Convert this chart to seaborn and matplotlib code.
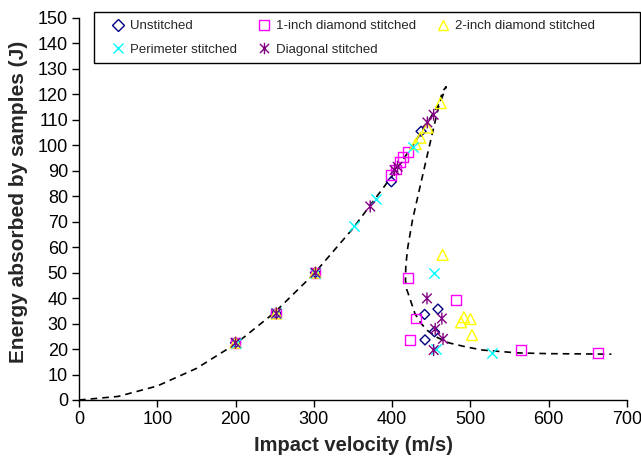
import numpy as np
import pandas as pd
import matplotlib
matplotlib.use("Agg")
import matplotlib.pyplot as plt
from matplotlib.path import Path
from matplotlib.patches import Rectangle
from matplotlib.lines import Line2D
import seaborn as sns

# ---------------- data ----------------
unst_v = [200, 252, 302, 399, 437, 441.5, 458.5, 454, 442]
unst_e = [22.5, 34, 50, 85.7, 105.5, 33.6, 35.7, 26.8, 23.6]

one_v = [200, 252, 302, 399, 405, 410, 414, 420, 420, 482, 430, 423, 565, 663]
one_e = [22.5, 34, 50, 88.5, 90.5, 93.5, 95.5, 97.5, 48, 39.3, 32, 23.5, 19.5, 18.3]

two_v = [200, 252, 302, 430, 436, 445, 462, 464.5, 491.7, 500, 488, 502]
two_e = [22.5, 34, 50, 100.5, 103, 107, 116.6, 57, 32.5, 31.8, 30.5, 25.5]

peri_v = [200, 252, 302, 351, 380, 426.5, 453, 456, 528]
peri_e = [22.5, 34, 50, 68.5, 79, 99.2, 50, 20, 18.5]

diag_v = [200, 252, 302, 372, 403, 407, 445, 453, 444.5, 463.5, 455, 465, 453]
diag_e = [22.5, 34, 50, 76, 90.3, 91.6, 109, 112, 39.9, 32, 27.9, 24, 19.6]

# fitted trend curve
curve_v = [0, 50, 100, 150, 200, 250, 300, 350, 400, 430, 450, 462, 469,
           464, 455, 445, 435, 426, 420, 417.5, 417, 418.5, 422, 429, 436,
           444, 458, 473, 495, 516, 540, 560, 600, 640, 680]
curve_e = [0, 1.4, 5.5, 12.4, 22, 34.4, 49.5, 67.4, 88, 101.7, 111.4, 117.4, 123,
           121, 109.5, 96.3, 82.9, 70.7, 60, 53, 47, 43.5, 40.5, 34, 30.5,
           27.5, 24.5, 22.4, 20.8, 19.6, 19, 18.5, 18.2, 18.1, 18]

labels = ["Unstitched", "1-inch diamond stitched", "2-inch diamond stitched",
          "Perimeter stitched", "Diagonal stitched"]
x_ticks = [0, 100, 200, 300, 400, 500, 600, 700]
y_ticks = list(range(0, 151, 10))

# ---------------- style ----------------
sns.set_theme(style="white")
plt.rcParams["font.family"] = ["Liberation Sans", "DejaVu Sans"]

W, H = 641, 462
fig = plt.figure(figsize=(W / 100, H / 100), dpi=100)
ax = fig.add_axes([79 / W, 1 - 400 / H, (627 - 79) / W, (400 - 18) / H])

# asterisk marker (x with vertical bar)
ast = Path([(0, -1), (0, 1), (-0.8, -0.8), (0.8, 0.8), (-0.8, 0.8), (0.8, -0.8)],
           [Path.MOVETO, Path.LINETO, Path.MOVETO, Path.LINETO, Path.MOVETO, Path.LINETO])

curve_df = pd.DataFrame({"v": curve_v, "e": curve_e})
sns.lineplot(data=curve_df, x="v", y="e", sort=False, estimator=None, ax=ax,
             color="black", linewidth=1.2, dashes=False, linestyle=(0, (4, 3)), zorder=1)

series = [
    (unst_v, unst_e, "D", "#000080", 26, labels[0], True),
    (one_v, one_e, "s", "#FF00FF", 50, labels[1], True),
    (two_v, two_e, "^", "#FFFF00", 62, labels[2], True),
    (peri_v, peri_e, "x", "#00FFFF", 55, labels[3], False),
    (diag_v, diag_e, ast, "#800080", 75, labels[4], True),
]
handles = {}
for v, e, mk, col, s, lab, hollow in series:
    df = pd.DataFrame({"v": v, "e": e})
    kw = dict(facecolor="none", edgecolor=col) if hollow else dict()
    sns.scatterplot(data=df, x="v", y="e", marker=mk, s=s, ax=ax,
                    color=col, linewidth=1.0, zorder=3, **kw)
    handles[lab] = Line2D([], [], linestyle="none", marker=mk,
                          markersize=np.sqrt(s) * (0.95 if mk != "D" else 1.1),
                          markerfacecolor="none", markeredgecolor=col, markeredgewidth=1.0)

ax.set_xlim(0, 700)
ax.set_ylim(0, 150)
ax.set_xticks(x_ticks)
ax.set_yticks(y_ticks)
ax.tick_params(axis="both", which="major", labelsize=13, length=5, width=1,
               direction="out", colors="black", pad=3)
ax.tick_params(axis="x", bottom=True)
ax.tick_params(axis="y", left=True)
for sp in ["top", "right"]:
    ax.spines[sp].set_visible(False)
for sp in ["left", "bottom"]:
    ax.spines[sp].set_color("black")
    ax.spines[sp].set_linewidth(1.0)
ax.grid(False)

ax.set_xlabel("Impact velocity (m/s)", fontsize=14.5, fontweight="bold", labelpad=6)
ax.set_ylabel("Energy absorbed by samples (J)", fontsize=15, fontweight="bold", labelpad=7)
ax.yaxis.label.set_y(0.518)

# legend (order so that rows read across like the reference)
order = [labels[0], labels[3], labels[1], labels[4], labels[2]]
leg = fig.legend([handles[l] for l in order], order, loc="upper left",
                 bbox_to_anchor=(112 / W, 1 - 20 / H), bbox_transform=fig.transFigure,
                 ncol=3, frameon=False, fontsize=9.5, borderpad=0, borderaxespad=0,
                 handlelength=0.9, handletextpad=0.5, columnspacing=1.55,
                 labelspacing=0.88)
fig.patches.append(Rectangle((94 / W, 1 - 63 / H), (640 - 94) / W, (63 - 12) / H,
                             transform=fig.transFigure, fill=False, edgecolor="black",
                             linewidth=1.0))

fig.savefig("out.png", dpi=100)
